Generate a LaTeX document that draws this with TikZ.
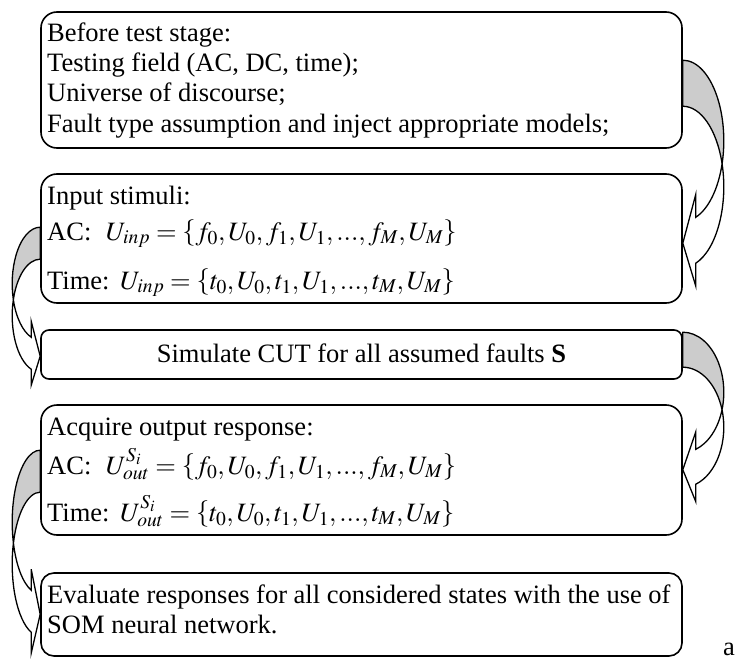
\documentclass[tikz,border=0pt]{standalone}
\usepackage{mathptmx}
\usepackage{fontspec}
\setmainfont{Liberation Serif}
\usetikzlibrary{calc}
\tikzset{
  box/.style={draw, line width=1.6pt, rounded corners=16pt, minimum width=641pt, inner sep=0pt},
  txt/.style={anchor=base west, inner sep=0pt, font=\fontsize{26.5}{30}\selectfont},
  backface/.style={fill=black!20, draw, line width=1.3pt, line join=round},
  frontface/.style={fill=white, draw, line width=1.3pt, line join=miter},
}
\begin{document}
\begin{tikzpicture}[x=1pt,y=-1pt]
\useasboundingbox (0,0) rectangle (739,661);
% boxes
\node[box, minimum height=136pt] (b1) at (361.5,80) {};
\node[box, minimum height=129pt] (b2) at (361.5,238.5) {};
\node[box, minimum height=49pt, rounded corners=8pt] (b3) at (361.5,354.5) {};
\node[box, minimum height=130pt] (b4) at (361.5,470) {};
\node[box, minimum height=83pt, rounded corners=13pt] (b5) at (361.5,614.5) {};

% arrow 1 (right side, b1 -> b2)
\coordinate (t1) at ($(b2.north east)+(0,70)$);
\filldraw[backface] ($(b1.north east)+(0,49)$)
  arc[start angle=-90, end angle=16.6, x radius=41, y radius=80.6] coordinate (a1c)
  arc[start angle=-16.6, end angle=-90, x radius=41, y radius=80.6] -- cycle;
\filldraw[frontface] (a1c)
  arc[start angle=16.6, end angle=71.5, x radius=41, y radius=80.6]
  -- ++(0,-23) -- (t1) -- ++(13,43) -- ++(0,-23)
  arc[start angle=71.5, end angle=-16.6, x radius=41, y radius=80.6] -- cycle;

% arrow 2 (left side, b2 -> b3)
\coordinate (t2) at ($(b3.north west)+(0,27)$);
\filldraw[backface] ($(b2.north west)+(0,54)$)
  arc[start angle=-90, end angle=-196.45, x radius=28, y radius=56.5] coordinate (a2c)
  arc[start angle=-163.55, end angle=-90, x radius=28, y radius=56.5] -- cycle;
\filldraw[frontface] (a2c)
  arc[start angle=-196.45, end angle=-251.25, x radius=28, y radius=56.5]
  -- ++(0,-16) -- (t2) -- ++(-9,29) -- ++(0,-16)
  arc[start angle=-251.25, end angle=-163.55, x radius=28, y radius=56.5] -- cycle;

% arrow 3 (right side, b3 -> b4)
\coordinate (t3) at ($(b4.north east)+(0,65.5)$);
\filldraw[backface] ($(b3.north east)+(0,3)$)
  arc[start angle=-90, end angle=16.93, x radius=41, y radius=60.1] coordinate (a3c)
  arc[start angle=-16.93, end angle=-90, x radius=41, y radius=60.1] -- cycle;
\filldraw[frontface] (a3c)
  arc[start angle=16.93, end angle=71.5, x radius=41, y radius=60.1]
  -- ++(0,-17.5) -- (t3) -- ++(13,32) -- ++(0,-17.5)
  arc[start angle=71.5, end angle=-16.93, x radius=41, y radius=60.1] -- cycle;

% arrow 4 (left side, b4 -> b5)
\coordinate (t4) at ($(b5.north west)+(0,42)$);
\filldraw[backface] ($(b4.north west)+(0,46)$)
  arc[start angle=-90, end angle=-196.98, x radius=28, y radius=71.9] coordinate (a4c)
  arc[start angle=-163.02, end angle=-90, x radius=28, y radius=71.9] -- cycle;
\filldraw[frontface] (a4c)
  arc[start angle=-196.98, end angle=-251.25, x radius=28, y radius=71.9]
  -- ++(0,-21) -- (t4) -- ++(-9,39) -- ++(0,-21)
  arc[start angle=-251.25, end angle=-163.02, x radius=28, y radius=71.9] -- cycle;

% texts
\node[txt] (l11) at (47,42) {Before test stage:};
\node[txt] (l12) at (47,72) {Testing field (AC, DC, time);};
\node[txt] (l13) at (47,102) {Universe of discourse;};
\node[txt] (l14) at (47,132) {Fault type assumption and inject appropriate models;};

\node[txt] (l21) at (47,204) {Input stimuli:};
\node[txt] (l22) at (47,240) {AC:\hspace{0.55em}$U_{inp}=\left\{f_0,U_0,f_1,U_1,...,f_M,U_M\right\}$};
\node[txt] (l23) at (47,289) {Time:\hspace{0.4em}$U_{inp}=\left\{t_0,U_0,t_1,U_1,...,t_M,U_M\right\}$};

\node[txt, anchor=base] (l31) at (361.5,362) {Simulate CUT for all assumed faults \textbf{S}};

\node[txt] (l41) at (47,435) {Acquire output response:};
\node[txt] (l42) at (47,474) {AC:\hspace{0.55em}$U_{out}^{S_i}=\left\{f_0,U_0,f_1,U_1,...,f_M,U_M\right\}$};
\node[txt] (l43) at (47,521) {Time:\hspace{0.4em}$U_{out}^{S_i}=\left\{t_0,U_0,t_1,U_1,...,t_M,U_M\right\}$};

\node[txt] (l51) at (47,603) {Evaluate responses for all considered states with the use of};
\node[txt] (l52) at (47,633) {SOM neural network.};

\node[txt] (la) at (723,655) {a};
\end{tikzpicture}
\end{document}
